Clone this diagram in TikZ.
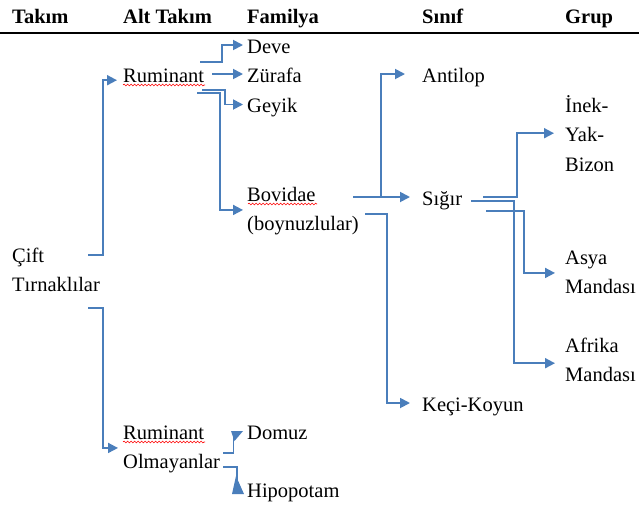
\documentclass[tikz,border=0pt]{standalone}
\usepackage{fontspec}
\setmainfont{Liberation Serif}
\usetikzlibrary{arrows.meta,decorations.pathmorphing}
\definecolor{conncol}{HTML}{4A7EBB}
\newcommand{\topstrut}{\rule{0pt}{18pt}}
\newcommand{\botstrut}{\rule[-6pt]{0pt}{6pt}}
\tikzset{
  lbl/.style={inner sep=0pt, anchor=base west, font=\fontsize{20.5}{29.5}\selectfont, text height=16pt, text depth=0pt},
  mlbl/.style={inner sep=0pt, anchor=north west, align=left, font=\fontsize{20.5}{29.5}\selectfont},
  hdr/.style={inner sep=0pt, anchor=base west, font=\fontsize{20.5}{24}\selectfont\bfseries},
  link/.style={draw=conncol, line width=1.8pt, -{Triangle[length=10pt,width=10pt]}},
  plainlink/.style={draw=conncol, line width=1.8pt},
  headtri/.style={fill=conncol},
  wavy/.style={draw=red, line width=0.6pt, decorate, decoration={snake, amplitude=0.9pt, segment length=3.5pt}},
  rulel/.style={draw=black, line width=1.3pt}
}
\begin{document}
\begin{tikzpicture}[x=1pt,y=-1pt]
\fill[white] (0,0) rectangle (639,507);
\useasboundingbox (0,0) rectangle (639,507);
% headers
\node[hdr] (h1) at (12,23) {Takım};
\node[hdr] (h2) at (123,23) {Alt Takım};
\node[hdr] (h3) at (247,23) {Familya};
\node[hdr] (h4) at (422,23) {Sınıf};
\node[hdr] (h5) at (565,23) {Grup};
\coordinate (rl) at (0,33);
\coordinate (rr) at (639,33);
\draw[rulel] (rl) -- (rr);
% Takim
\node[mlbl] (cift) at (12,244) {\topstrut Çift\\Tırnaklılar\botstrut};
% Alt takim
\node[lbl] (rum) at (123,82) {Ruminant};
\node[mlbl] (rumo) at (123,421) {\topstrut Ruminant\\Olmayanlar\botstrut};
% Familya
\node[lbl] (deve) at (247,53) {Deve};
\node[lbl] (zur) at (247,82) {Zürafa};
\node[lbl] (gey) at (247,112.5) {Geyik};
\node[mlbl] (bov) at (247,183) {\topstrut Bovidae\\(boynuzlular)\botstrut};
\node[lbl] (dom) at (247,439) {Domuz};
\node[lbl] (hip) at (247,497) {Hipopotam};
% Sinif
\node[lbl] (ant) at (422,82) {Antilop};
\node[lbl] (sig) at (422,205) {Sığır};
\node[lbl] (kec) at (422,411) {Keçi-Koyun};
% Grup
\node[mlbl] (inek) at (565,94) {\topstrut İnek-\\Yak-\\Bizon\botstrut};
\node[mlbl] (asya) at (565,246) {\topstrut Asya\\Mandası\botstrut};
\node[mlbl] (afr) at (565,334) {\topstrut Afrika\\Mandası\botstrut};

% spell-check underlines
\coordinate (w1) at (123,85);  \coordinate (w2) at (205,85);
\coordinate (w3) at (123,442); \coordinate (w4) at (205,442);
\coordinate (w5) at (248,204); \coordinate (w6) at (317,204);
\draw[wavy] (w1) -- (w2);
\draw[wavy] (w3) -- (w4);
\draw[wavy] (w5) -- (w6);

% Cift Tirnaklilar -> Ruminant / Ruminant Olmayanlar
\coordinate (a1) at (88,255);  \coordinate (a2) at (103,255);
\draw[link, shorten >=6pt] (a1) -- (a2) |- ([yshift=2pt]rum.south west);
\coordinate (b1) at (88,308);  \coordinate (b2) at (103,308);
\draw[link, shorten >=5pt] (b1) -- (b2) |- (rumo.west);

% Ruminant -> families
\coordinate (c1) at (200,62);  \coordinate (c2) at (222,62);
\draw[link, shorten >=4pt] (c1) -- (c2) |- (deve.west);
\coordinate (z1) at (212,74);
\draw[link, shorten >=4pt] (zur.west -| z1) -- (zur.west);
\coordinate (g1) at (202,90);  \coordinate (g2) at (225,90);
\draw[link, shorten >=4pt] (g1) -- (g2) |- (gey.west);
\coordinate (v1) at (197,93);  \coordinate (v2) at (220,93);
\draw[link, shorten >=4pt] (v1) -- (v2) |- (bov.west);

% Bovidae -> classes
\coordinate (s1) at (353,198);
\draw[link, shorten >=12pt] (sig.west -| s1) -- (sig.west);
\coordinate (s2) at (381,198);
\draw[link, shorten >=17pt] (sig.west -| s2) |- (ant.west);
\coordinate (k1) at (365,214); \coordinate (k2) at (387,214);
\draw[link, shorten >=12pt] (k1) -- (k2) |- (kec.west);

% Sigir -> groups
\coordinate (i1) at (483,197); \coordinate (i2) at (517,197);
\draw[link, shorten >=11pt] (i1) -- (i2) |- ([yshift=2.5pt]inek.west);
\coordinate (f1) at (471,201); \coordinate (f2) at (514,201);
\draw[link, shorten >=10pt] (f1) -- (f2) |- ([yshift=-2.25pt]afr.west);
\coordinate (y1) at (486,211); \coordinate (y2) at (524,211);
\draw[link, shorten >=10pt] (y1) -- (y2) |- (asya.west);

% Ruminant Olmayanlar -> Domuz / Hipopotam
\coordinate (o1) at (223,453); \coordinate (o2) at (233.5,453); \coordinate (o3) at (233.5,437);
\draw[plainlink] (o1) -- (o2) -- (o3);
\fill[headtri] (231,431) -- (243,431) -- (234.5,441) -- cycle;
\coordinate (p1) at (223,467); \coordinate (p2) at (237,467); \coordinate (p3) at (237,482);
\draw[plainlink] (p1) -- (p2) -- (p3);
\fill[headtri] (236,476) -- (232,494) -- (244,494) -- cycle;
\end{tikzpicture}
\end{document}
